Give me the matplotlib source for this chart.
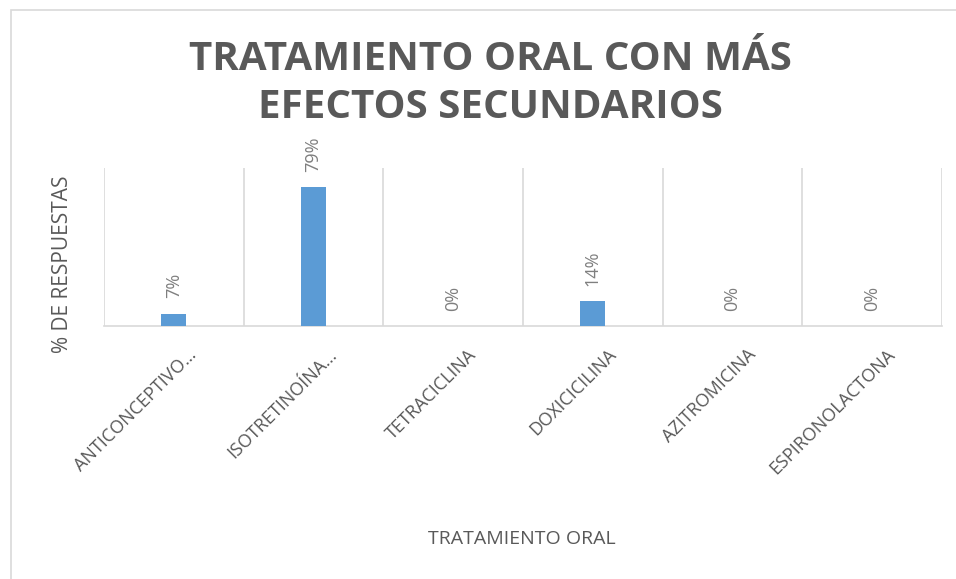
import matplotlib
matplotlib.use("Agg")
import matplotlib.pyplot as plt
import matplotlib.transforms as mtransforms
from matplotlib.patches import Rectangle

# data
categories = ["ANTICONCEPTIVO…", "ISOTRETINOÍNA…", "TETRACICLINA",
              "DOXICICILINA", "AZITROMICINA", "ESPIRONOLACTONA"]
values = [7, 79, 0, 14, 0, 0]
value_labels = ["7%", "79%", "0%", "14%", "0%", "0%"]

title = "TRATAMIENTO ORAL CON MÁS\nEFECTOS SECUNDARIOS"
xlabel = "TRATAMIENTO ORAL"
ylabel = "% DE RESPUESTAS"

bar_color = "#5B9BD5"
grid_color = "#D9D9D9"
text_gray = "#595959"
label_gray = "#7F7F7F"

plt.rcParams["font.family"] = ["Open Sans", "DejaVu Sans"]

fig = plt.figure(figsize=(9.56, 5.79), dpi=100)
fig.patch.set_facecolor("white")

# chart border (right and bottom edges fall outside the image)
fig.add_artist(Rectangle((11 / 956, -20 / 579), 960 / 956, 589 / 579,
                         transform=fig.transFigure, fill=False,
                         edgecolor=grid_color, linewidth=1.2))

ax = fig.add_axes([104 / 956, 1 - 326 / 579, 838 / 956, 158 / 579])
x = list(range(len(categories)))
ax.bar(x, values, width=0.18, color=bar_color, zorder=3)

ax.set_xlim(-0.5, len(categories) - 0.5)
ax.set_ylim(0, 90)

# category separators (vertical gridlines)
for b in range(len(categories) + 1):
    ax.axvline(b - 0.5, color=grid_color, linewidth=1.2, zorder=1)

for s in ["top", "right", "left"]:
    ax.spines[s].set_visible(False)
ax.spines["bottom"].set_color(grid_color)
ax.spines["bottom"].set_linewidth(1.2)

ax.set_yticks([])
ax.set_xticks(x)
ax.set_xticklabels(categories, rotation=45, ha="right", rotation_mode="anchor",
                   fontsize=13, color=text_gray)
ax.tick_params(axis="x", length=0, pad=14)
shift = mtransforms.ScaledTranslation(14 / 100, 0, fig.dpi_scale_trans)
for t in ax.get_xticklabels():
    t.set_transform(t.get_transform() + shift)

for xi, v, lab in zip(x, values, value_labels):
    ax.annotate(lab, (xi, v), xytext=(0, 11), textcoords="offset points",
                rotation=90, ha="center", va="bottom", fontsize=13,
                color=label_gray)

fig.text(62 / 956, 1 - 264 / 579, ylabel, rotation=90, ha="center", va="center",
         fontsize=15, color=text_gray)
fig.text(522 / 956, 1 - 539 / 579, xlabel, ha="center", va="center",
         fontsize=14, color=text_gray)
fig.text(490 / 956, 1 - 84 / 579, title, ha="center", va="center",
         fontsize=29, fontweight="bold", color=text_gray, linespacing=1.3)

fig.savefig("out.png", dpi=100)
